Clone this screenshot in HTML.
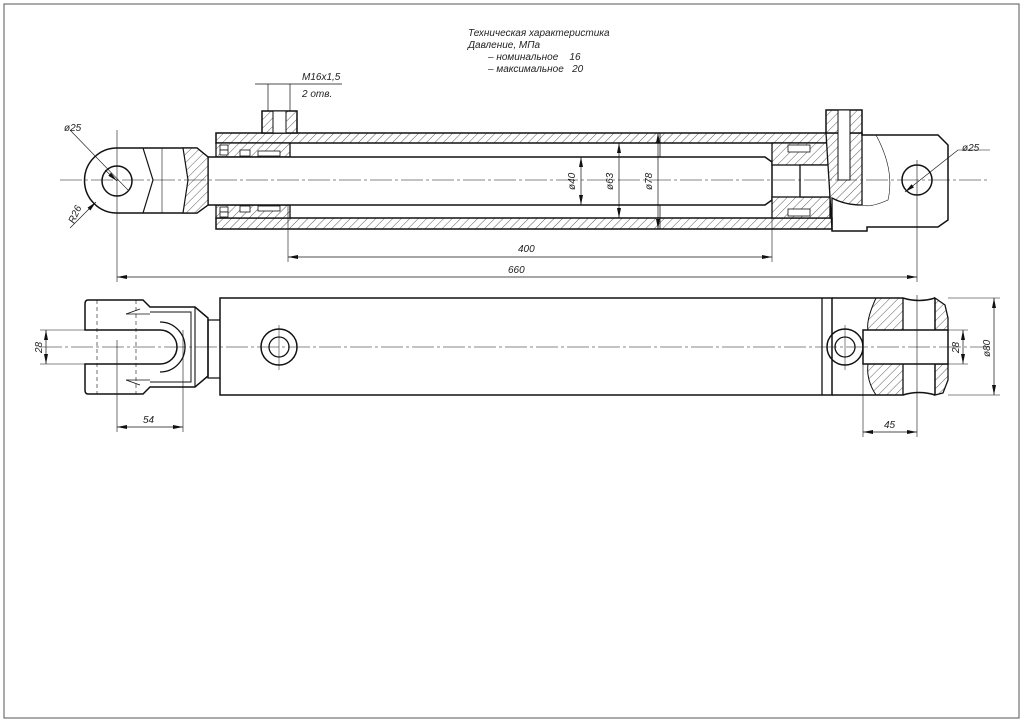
<!DOCTYPE html>
<html><head><meta charset="utf-8"><style>
html,body{margin:0;padding:0;background:#fff}
svg{display:block}
text{font-family:"Liberation Sans","DejaVu Sans",sans-serif;font-style:italic;fill:#222}
</style></head><body>
<svg width="1024" height="724" viewBox="0 0 1024 724" xmlns="http://www.w3.org/2000/svg">
<defs>
<pattern id="h" width="6" height="6" patternUnits="userSpaceOnUse" patternTransform="rotate(45)">
<rect width="6" height="6" fill="#fff"/><line x1="0" y1="0" x2="0" y2="6" stroke="#333" stroke-width="0.8"/>
</pattern>
<marker id="a" viewBox="0 0 10 4" refX="10" refY="2" markerWidth="10" markerHeight="4" orient="auto-start-reverse" markerUnits="userSpaceOnUse"><path d="M0,0L10,2L0,4z" fill="#111"/></marker>
</defs>
<rect x="4" y="4" width="1015" height="714" fill="none" stroke="#555" stroke-width="1"/>

<!-- spec text -->
<g font-size="10">
<text x="468" y="36">Техническая характеристика</text>
<text x="468" y="48">Давление, МПа</text>
<text x="488" y="60">– номинальное &#160;&#160;&#160;16</text>
<text x="488" y="72">– максимальное &#160;&#160;20</text>
<text x="302" y="80">M16x1,5</text>
<text x="302" y="97">2 отв.</text>
</g>
<g stroke="#111" stroke-width="0.7" fill="none">
<line x1="255" y1="84" x2="342" y2="84" />
<line x1="268" y1="84" x2="268" y2="111"/><line x1="290" y1="84" x2="290" y2="111"/>
</g>

<g stroke="#111" fill="none">
<!-- ===== TOP VIEW ===== -->
<!-- tube walls -->
<rect x="216" y="133" width="616" height="10" fill="url(#h)" stroke-width="1.5"/>
<rect x="216" y="218" width="616" height="11" fill="url(#h)" stroke-width="1.5"/>
<line x1="660" y1="133" x2="660" y2="229" stroke-width="0.8"/>
<!-- left port -->
<rect x="262" y="111" width="35" height="22" fill="url(#h)" stroke-width="1.5"/>
<rect x="273" y="111" width="13" height="22" fill="#fff" stroke-width="1"/>
<!-- gland -->
<rect x="216" y="143" width="74" height="14" fill="url(#h)" stroke-width="1.3"/>
<rect x="216" y="205" width="74" height="13" fill="url(#h)" stroke-width="1.3"/>
<rect x="220" y="145" width="8" height="5" fill="#fff" stroke-width="0.8"/>
<rect x="220" y="150" width="8" height="5" fill="#fff" stroke-width="0.8"/>
<rect x="220" y="207" width="8" height="5" fill="#fff" stroke-width="0.8"/>
<rect x="220" y="212" width="8" height="5" fill="#fff" stroke-width="0.8"/>
<rect x="240" y="150" width="10" height="6" fill="#fff" stroke-width="0.8"/>
<rect x="240" y="206" width="10" height="6" fill="#fff" stroke-width="0.8"/>
<rect x="258" y="151" width="22" height="5" fill="#fff" stroke-width="0.8"/>
<rect x="258" y="206" width="22" height="5" fill="#fff" stroke-width="0.8"/>
<!-- rod -->
<path d="M208,157 L765,157 L772,162 L772,200 L765,205 L208,205" stroke-width="1.5" fill="#fff"/>
<!-- piston -->
<rect x="772" y="143" width="58" height="22" fill="url(#h)" stroke-width="1.3"/>
<rect x="772" y="197" width="58" height="21" fill="url(#h)" stroke-width="1.3"/>
<rect x="788" y="145" width="22" height="7" fill="#fff" stroke-width="0.8"/>
<rect x="788" y="209" width="22" height="7" fill="#fff" stroke-width="0.8"/>
<rect x="800" y="165" width="30" height="32" fill="#fff" stroke-width="1.3"/>
<!-- right cap -->
<path d="M826,133 L862,133 L862,205 Q845,205 832,198 L832,229 Z" fill="url(#h)" stroke-width="1.3"/>
<rect x="826" y="110" width="36" height="23" fill="url(#h)" stroke-width="1.5"/>
<rect x="838" y="110" width="12" height="70" fill="#fff" stroke-width="1"/>
<path d="M862,133 L862,135 L938,135 L948,145 L948,220 L938,227 L867,227 L867,231 L832,231 L832,229" stroke-width="1.5"/>
<path d="M876,135 Q895,170 888,200 Q870,208 862,205" stroke-width="0.6"/>
<circle cx="917" cy="180" r="15" stroke-width="1.5"/>
<!-- left eye -->
<path d="M117,148 L197,148 L208,157 L208,205 L197,213 L117,213 A32.5,32.5 0 0 1 117,148 Z" stroke-width="1.5" fill="#fff"/>
<path d="M183,148 L197,148 L208,157 L208,205 L197,213 L183,213 L188,180 Z" fill="url(#h)" stroke-width="1.2"/>
<path d="M143,148 L153,180 L143,213" stroke-width="1.2"/>
<line x1="162" y1="148" x2="162" y2="213" stroke-width="0.6"/>
<circle cx="117" cy="181" r="15" stroke-width="1.5"/>
<!-- centerline -->
<line x1="60" y1="180" x2="990" y2="180" stroke-width="0.6" stroke-dasharray="22,3,3,3"/>
<line x1="117" y1="130" x2="117" y2="282" stroke-width="0.6"/>
<line x1="917" y1="160" x2="917" y2="282" stroke-width="0.6"/>
<line x1="288" y1="205" x2="288" y2="262" stroke-width="0.6"/>
<line x1="772" y1="205" x2="772" y2="262" stroke-width="0.6"/>
<!-- dims -->
<line x1="288" y1="257" x2="772" y2="257" stroke-width="0.7" marker-start="url(#a)" marker-end="url(#a)"/>
<line x1="117" y1="277" x2="917" y2="277" stroke-width="0.7" marker-start="url(#a)" marker-end="url(#a)"/>
<line x1="581" y1="157" x2="581" y2="205" stroke-width="0.7" marker-start="url(#a)" marker-end="url(#a)"/>
<line x1="619" y1="143" x2="619" y2="218" stroke-width="0.7" marker-start="url(#a)" marker-end="url(#a)"/>
<line x1="658" y1="133" x2="658" y2="229" stroke-width="0.7" marker-start="url(#a)" marker-end="url(#a)"/>
<line x1="70" y1="130" x2="128" y2="190" stroke-width="0.6"/>
<line x1="105" y1="170" x2="117" y2="181" stroke-width="0.7" marker-end="url(#a)"/>
<line x1="70" y1="228" x2="96" y2="202" stroke-width="0.6" marker-end="url(#a)"/>
<line x1="905" y1="192" x2="958" y2="150" stroke-width="0.6" marker-start="url(#a)"/>
<line x1="958" y1="150" x2="990" y2="150" stroke-width="0.6"/>

<!-- ===== BOTTOM VIEW ===== -->
<rect x="220" y="298" width="612" height="97" stroke-width="1.5"/>
<line x1="822" y1="298" x2="822" y2="395" stroke-width="1.3"/>
<circle cx="279" cy="347" r="18" stroke-width="1.5"/><circle cx="279" cy="347" r="10" stroke-width="1.3"/>
<circle cx="845" cy="347" r="18" stroke-width="1.5"/><circle cx="845" cy="347" r="10" stroke-width="1.3"/>
<!-- left clevis -->
<path d="M220,320 L208,320 L208,378 L220,378" stroke-width="1.3"/>
<path d="M208,318 L195,307 L150,307 L143,300 L88,300 Q85,300 85,304 L85,330 L160,330 A17,17 0 0 1 160,364 L85,364 L85,390 Q85,394 88,394 L143,394 L150,387 L195,387 L208,376 Z" stroke-width="1.5"/>
<path d="M160,322 A25,25 0 0 1 160,372" stroke-width="1.3"/>
<path d="M195,307 L195,387" stroke-width="1.1"/>
<path d="M150,312 L191,312 L191,382 L150,382" stroke-width="1"/>
<line x1="97" y1="300" x2="97" y2="394" stroke-width="0.6" stroke-dasharray="4,3"/>
<line x1="136" y1="300" x2="136" y2="394" stroke-width="0.6" stroke-dasharray="4,3"/>
<line x1="126" y1="314" x2="140" y2="309" stroke-width="0.8"/><line x1="126" y1="314" x2="150" y2="314" stroke-width="0.8"/>
<line x1="126" y1="380" x2="140" y2="385" stroke-width="0.8"/><line x1="126" y1="380" x2="150" y2="380" stroke-width="0.8"/>
<!-- right clevis -->
<path d="M876,298 Q866,320 868,330 L903,330 L903,298 Z" fill="url(#h)" stroke-width="1"/>
<path d="M868,364 Q866,380 876,395 L903,395 L903,364 Z" fill="url(#h)" stroke-width="1"/>
<path d="M935,298 L945,305 L948,318 L948,330 L935,330 Z" fill="url(#h)" stroke-width="1.3"/>
<path d="M935,364 L948,364 L948,380 L943,393 L935,395 Z" fill="url(#h)" stroke-width="1.3"/>
<path d="M832,298 L903,298 Q919,303 935,298" stroke-width="1.5"/>
<path d="M832,395 L903,395 Q919,390 935,395" stroke-width="1.5"/>
<rect x="863" y="330" width="85" height="34" stroke-width="1.5" fill="#fff"/>
<line x1="903" y1="298" x2="903" y2="330" stroke-width="1.3"/><line x1="903" y1="364" x2="903" y2="395" stroke-width="1.3"/>
<line x1="935" y1="298" x2="935" y2="330" stroke-width="1.3"/><line x1="935" y1="364" x2="935" y2="395" stroke-width="1.3"/>
<!-- centerline bottom -->
<line x1="40" y1="347" x2="990" y2="347" stroke-width="0.6" stroke-dasharray="22,3,3,3"/>
<line x1="279" y1="325" x2="279" y2="370" stroke-width="0.5"/>
<line x1="845" y1="325" x2="845" y2="370" stroke-width="0.5"/>
<!-- bottom dims -->
<line x1="40" y1="330" x2="85" y2="330" stroke-width="0.6"/><line x1="40" y1="364" x2="85" y2="364" stroke-width="0.6"/>
<line x1="46" y1="330" x2="46" y2="364" stroke-width="0.7" marker-start="url(#a)" marker-end="url(#a)"/>
<line x1="117" y1="340" x2="117" y2="432" stroke-width="0.6"/><line x1="183" y1="330" x2="183" y2="432" stroke-width="0.6"/>
<line x1="117" y1="427" x2="183" y2="427" stroke-width="0.7" marker-start="url(#a)" marker-end="url(#a)"/>
<line x1="863" y1="364" x2="863" y2="437" stroke-width="0.6"/><line x1="917" y1="295" x2="917" y2="437" stroke-width="0.6"/>
<line x1="863" y1="432" x2="917" y2="432" stroke-width="0.7" marker-start="url(#a)" marker-end="url(#a)"/>
<line x1="948" y1="330" x2="968" y2="330" stroke-width="0.6"/><line x1="948" y1="364" x2="968" y2="364" stroke-width="0.6"/>
<line x1="963" y1="330" x2="963" y2="364" stroke-width="0.7" marker-start="url(#a)" marker-end="url(#a)"/>
<line x1="948" y1="298" x2="1000" y2="298" stroke-width="0.6"/><line x1="948" y1="395" x2="1000" y2="395" stroke-width="0.6"/>
<line x1="994" y1="298" x2="994" y2="395" stroke-width="0.7" marker-start="url(#a)" marker-end="url(#a)"/>
</g>

<g font-size="10">
<text x="518" y="252">400</text>
<text x="508" y="273">660</text>
<text x="64" y="131">ø25</text>
<text x="962" y="151">ø25</text>
<text transform="translate(74,224) rotate(-65)">R26</text>
<text transform="translate(575,190) rotate(-90)">ø40</text>
<text transform="translate(613,190) rotate(-90)">ø63</text>
<text transform="translate(652,190) rotate(-90)">ø78</text>
<text transform="translate(42,353) rotate(-90)">28</text>
<text transform="translate(959,353) rotate(-90)">28</text>
<text transform="translate(990,357) rotate(-90)">ø80</text>
<text x="143" y="423">54</text>
<text x="884" y="428">45</text>
</g>
</svg>
</body></html>
